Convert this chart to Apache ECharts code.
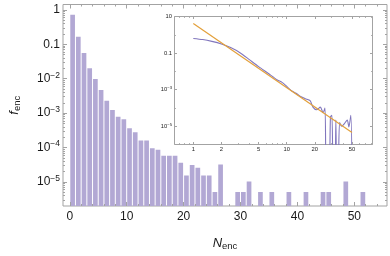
<!DOCTYPE html>
<html><head><meta charset="utf-8">
<script src="https://cdn.jsdelivr.net/npm/echarts@6/dist/echarts.min.js"></script>
<style>html,body{margin:0;padding:0;background:#fff}#c{width:390px;height:256px}</style>
</head><body><div id="c"></div>
<script>
// ---- data ----
const binStarts = [0,1,2,3,4,5,6,7,8,9,10,11,12,13,14,15,16,17,18,19,20,21,22,23,24,25,26,27,28,29,30,31,32,33,34,35,36,37,38,39,40,41,42,43,44,45,46,47,48,49,50,51];
const fEnc = [0.72,0.165,0.0561,0.0202,0.00987,0.00467,0.00229,0.00123,0.00078,0.00066,
  0.000365,0.00028,0.00016,0.00016,0.000095,0.000087,0.000058,0.000058,0.000058,0.000036,
  0.0000155,0.000031,0.000026,0.0000155,0.0000155,0.0000051,0.000032,0,0,0.0000051,
  0.0000051,0.0000103,0,0.0000051,0,0.0000051,0,0,0.0000051,0,
  0,0.0000051,0,0,0.0000051,0.0000051,0,0,0.0000103,0,
  0,0.0000051];
const xTickLabels = [0,10,20,30,40,50];
const yTickExponents = [-5,-4,-3,-2,-1,0];
const insetXTickLabels = [1,2,5,10,20,50];
const insetYTickExponents = [-5,-3,-1,1];
const insetDensityX = [1,1.26,1.58,2.0,2.51,3.16,3.98,5.01,6.31,7.94,8.91,10,11.2,12.6,14.1,15.8,17.8,19.1,20.9,22.9,24.5,25.7,
  26.6,28.4,29.4,30.5,31.5,32.8,33.6,34.4,35.4,36.8,38.8,41.5,44.5,46.3,48.6,50.2];
const insetDensityY = [0.631,0.55,0.437,0.316,0.2,0.105,0.0437,0.0182,0.0079,0.0034,0.0025,0.0015,0.00089,0.00063,0.00042,0.00032,0.00025,0.00011,0.000079,0.00011,0.000056,0.0001,
  1e-8,1e-8,0.000032,0.00004,1e-8,1e-8,0.000022,1e-8,1e-8,0.000016,0.00001,0.000014,0.000022,0.000009,0.00004,1e-8];
const insetFitX = [1,50];
const insetFitY = [4.2,0.0000045];

// ---- layout / style ----
const FONT = "'Liberation Sans', Arial, sans-serif";
const frameColor = '#a3a3a3';
const textColor = '#1a1a1a';
const barColor = '#b2a8d4';
const XMIN = -1.19, XMAX = 55.74;
const YMIN = 2.01e-6, YMAX = 1.43;
const IXMIN = 0.629, IXMAX = 82.9;
const IYMIN = 1e-6, IYMAX = 10;
const L10 = Math.log10;

const minorX = []; for (let i = 0; i <= 54; i += 2) if (i % 10) minorX.push(i);
const minorY = []; for (let e = -6; e <= 0; e++) for (let k = 2; k <= 9; k++) minorY.push(L10(k) + e);
const insetMinorX = [0.7,0.8,0.9,3,4,6,7,8,9,30,40,60,70,80].map(L10);
const insetMinorY = [-6,-4,-2,0];

function tickAxis(base, ticks, len, labelValues, labelOpts) {
  return Object.assign({
    type: 'value', axisLine: {show: false, onZero: false}, splitLine: {show: false},
    axisTick: {show: true, inside: true, length: len, customValues: ticks, lineStyle: {color: frameColor, width: 1}},
    axisLabel: labelValues ? Object.assign({show: true, customValues: labelValues, color: textColor, fontFamily: FONT}, labelOpts) : {show: false},
    z: 5
  }, base);
}

function mainYFmt(v) {
  const e = Math.round(v);
  if (e === 0) return '1';
  if (e === -1) return '0.1';
  return '{b|10}{p|\u2212' + (-e) + '}';
}
function insetYFmt(v) {
  const e = Math.round(v);
  if (e === 1) return '10';
  if (e === -1) return '0.1';
  return '{b|10}{p|\u2212' + (-e) + '}';
}

const yl = [L10(YMIN), L10(YMAX)];
const ixl = [L10(IXMIN), L10(IXMAX)];
const iyl = [L10(IYMIN), L10(IYMAX)];

const option = {
  animation: false,
  backgroundColor: '#fff',
  grid: [
    {left: 52.5, top: 4.5, width: 334.5, height: 207, show: true, borderColor: frameColor, borderWidth: 1, backgroundColor: 'transparent'},
    {left: 174.5, top: 16.5, width: 198, height: 128, show: true, borderColor: frameColor, borderWidth: 1, backgroundColor: '#fff'}
  ],
  xAxis: [
    tickAxis({gridIndex: 0, position: 'bottom', min: XMIN, max: XMAX,
      name: '{n|N}{s|enc}', nameLocation: 'middle', nameGap: 30,
      nameTextStyle: {fontFamily: FONT, color: textColor, rich: {
        n: {fontSize: 13, fontStyle: 'italic', fontFamily: FONT, color: textColor},
        s: {fontSize: 9.5, fontFamily: FONT, color: textColor, padding: [5, 0, 0, 0]}}}
    }, xTickLabels, 4, xTickLabels, {fontSize: 12, margin: 5}),
    tickAxis({gridIndex: 0, position: 'bottom', min: XMIN, max: XMAX}, minorX, 2),
    tickAxis({gridIndex: 0, position: 'top', min: XMIN, max: XMAX}, xTickLabels, 4),
    tickAxis({gridIndex: 0, position: 'top', min: XMIN, max: XMAX}, minorX, 2),
    {type: 'log', gridIndex: 1, min: IXMIN, max: IXMAX, show: false, axisLine: {onZero: false}},
    tickAxis({gridIndex: 1, position: 'bottom', min: ixl[0], max: ixl[1]}, insetXTickLabels.map(L10), 2.5,
      insetXTickLabels.map(L10), {fontSize: 5.8, margin: 2, formatter: v => String(Math.round(Math.pow(10, v)))}),
    tickAxis({gridIndex: 1, position: 'bottom', min: ixl[0], max: ixl[1]}, insetMinorX, 1.3),
    tickAxis({gridIndex: 1, position: 'top', min: ixl[0], max: ixl[1]}, insetXTickLabels.map(L10), 2.5),
    tickAxis({gridIndex: 1, position: 'top', min: ixl[0], max: ixl[1]}, insetMinorX, 1.3)
  ],
  yAxis: [
    {type: 'log', gridIndex: 0, min: YMIN, max: YMAX, show: false, axisLine: {onZero: false}},
    tickAxis({gridIndex: 0, position: 'left', min: yl[0], max: yl[1],
      name: '{f|f}{s|enc}', nameLocation: 'middle', nameGap: 41, nameRotate: 90,
      nameTextStyle: {fontFamily: FONT, color: textColor, rich: {
        f: {fontSize: 13, fontStyle: 'italic', fontFamily: FONT, color: textColor},
        s: {fontSize: 9.5, fontFamily: FONT, color: textColor, padding: [5, 0, 0, 0]}}}
    }, yTickExponents, 4, yTickExponents, {fontSize: 12, margin: 3, formatter: mainYFmt,
      rich: {b: {fontSize: 12, fontFamily: FONT, color: textColor}, p: {fontSize: 8.5, fontFamily: FONT, color: textColor, padding: [0, 0, 7, 0]}}}),
    tickAxis({gridIndex: 0, position: 'left', min: yl[0], max: yl[1]}, minorY, 2),
    tickAxis({gridIndex: 0, position: 'right', min: yl[0], max: yl[1]}, yTickExponents, 4),
    tickAxis({gridIndex: 0, position: 'right', min: yl[0], max: yl[1]}, minorY, 2),
    {type: 'log', gridIndex: 1, min: IYMIN, max: IYMAX, show: false, axisLine: {onZero: false}},
    tickAxis({gridIndex: 1, position: 'left', min: iyl[0], max: iyl[1]}, insetYTickExponents, 2.5, insetYTickExponents,
      {fontSize: 5.8, margin: 2.5, formatter: insetYFmt,
       rich: {b: {fontSize: 5.8, fontFamily: FONT, color: textColor}, p: {fontSize: 4.2, fontFamily: FONT, color: textColor, padding: [0, 0, 3.5, 0]}}}),
    tickAxis({gridIndex: 1, position: 'left', min: iyl[0], max: iyl[1]}, insetMinorY, 1.3),
    tickAxis({gridIndex: 1, position: 'right', min: iyl[0], max: iyl[1]}, insetYTickExponents, 2.5),
    tickAxis({gridIndex: 1, position: 'right', min: iyl[0], max: iyl[1]}, insetMinorY, 1.3)
  ],
  series: [
    {
      type: 'custom', xAxisIndex: 0, yAxisIndex: 0, clip: true,
      data: binStarts.map((n, i) => [n, fEnc[i]]).filter(d => d[1] > 0),
      renderItem: function (params, api) {
        const n = api.value(0), v = api.value(1);
        const p1 = api.coord([n, v]);
        const p0 = api.coord([n + 1, YMIN]);
        return {type: 'rect', shape: {x: p1[0] + 0.5, y: p1[1], width: p0[0] - p1[0] - 1, height: p0[1] - p1[1]},
          style: {fill: barColor}};
      }
    },
    {
      type: 'line', xAxisIndex: 4, yAxisIndex: 5, showSymbol: false, smooth: 0.25, clip: true,
      data: insetDensityX.map((x, i) => [x, insetDensityY[i]]),
      lineStyle: {color: '#8176bd', width: 1.1}, z: 3
    },
    {
      type: 'line', xAxisIndex: 4, yAxisIndex: 5, showSymbol: false, clip: true,
      data: insetFitX.map((x, i) => [x, insetFitY[i]]),
      lineStyle: {color: '#e3a03a', width: 1.2}, z: 4
    }
  ]
};

const chart = echarts.init(document.getElementById('c'), null, {renderer: 'canvas'});
chart.setOption(option);
</script>
</body></html>
